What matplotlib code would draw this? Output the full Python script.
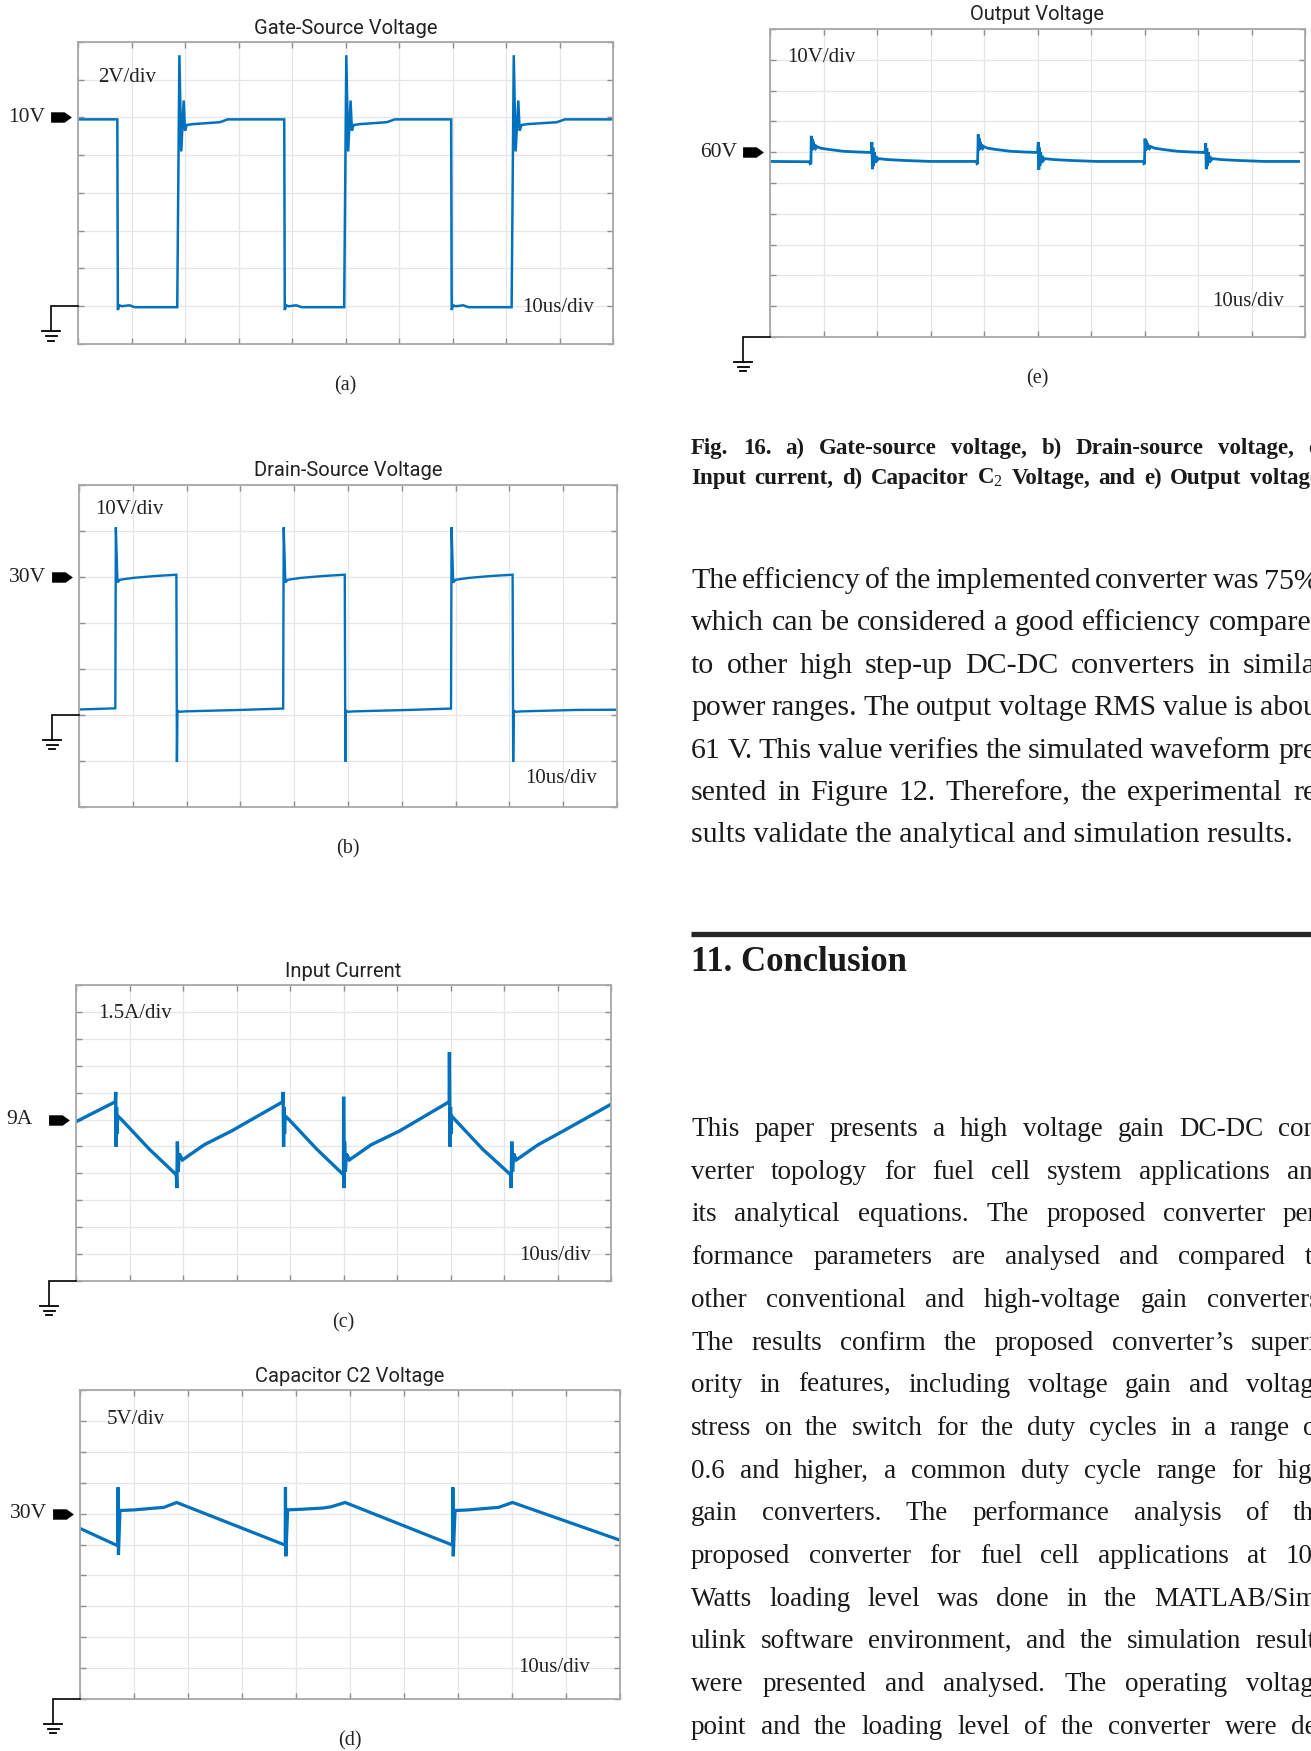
import matplotlib
matplotlib.use("Agg")
import matplotlib.pyplot as plt
from matplotlib.path import Path

plt.rcParams['font.family'] = ['Liberation Serif', 'DejaVu Serif']
plt.rcParams['mathtext.fontset'] = 'custom'
plt.rcParams['mathtext.rm'] = 'Liberation Serif'
plt.rcParams['mathtext.it'] = 'Liberation Serif:italic'
plt.rcParams['mathtext.bf'] = 'Liberation Serif:bold'

W, H = 1311, 1751
TRACE = '#0072BD'
SANS = ['Liberation Sans Narrow', 'Roboto', 'DejaVu Sans']

# ---------- scope captures (time in us) ----------
# gate-source voltage, V
gs_t = [0, 7.35, 7.45, 7.7, 8.2, 9.6, 10.6,
        18.55, 18.95, 19.3, 19.75, 20.0, 20.3, 21.5, 26.5, 28.0,
        38.55, 38.65, 38.9, 39.4, 40.8, 41.8,
        49.75, 50.15, 50.5, 50.95, 51.2, 51.5, 52.7, 57.7, 59.2,
        69.75, 69.85, 70.1, 70.6, 72.0, 73.0,
        81.05, 81.45, 81.8, 82.3, 82.55, 82.9, 84.0, 89.5, 91.0, 100]
gs_v = [9.9, 9.9, -0.2, 0.05, 0.0, 0.05, -0.05,
        -0.05, 13.3, 8.2, 10.9, 9.3, 9.6, 9.65, 9.75, 9.9,
        9.9, -0.2, 0.05, 0.0, 0.05, -0.05,
        -0.05, 13.3, 8.2, 10.9, 9.3, 9.6, 9.65, 9.75, 9.9,
        9.9, -0.2, 0.05, 0.0, 0.05, -0.05,
        -0.05, 13.3, 8.2, 10.9, 9.3, 9.6, 9.65, 9.75, 9.9, 9.9]

# drain-source voltage, V
ds_t = [0, 6.75, 6.85, 7.15, 7.6, 10.0, 14.0, 18.1, 18.2, 18.3, 18.6, 20.0, 30.0, 37.95,
        38.05, 38.35, 38.8, 41.2, 45.2, 49.4, 49.5, 49.6, 49.9, 51.3, 61.3, 69.15,
        69.25, 69.55, 70.0, 72.4, 76.4, 80.6, 80.7, 80.8, 81.1, 82.5, 92.5, 100]
ds_v = [1.2, 1.45, 40.8, 28.8, 29.4, 29.8, 30.2, 30.5, -10.2, 1.0, 0.7, 0.8, 1.1, 1.4,
        40.8, 28.8, 29.4, 29.8, 30.2, 30.5, -10.2, 1.0, 0.7, 0.8, 1.1, 1.4,
        40.8, 28.8, 29.4, 29.8, 30.2, 30.5, -10.2, 1.0, 0.7, 0.8, 1.1, 1.15]

# input current, A
ic_t = [0, 7.35, 7.42, 7.5, 7.58, 7.68, 7.8, 8.6, 13.7, 18.75, 18.85, 18.95, 19.1, 19.3, 19.9, 24.0, 29.0, 38.65,
        38.72, 38.8, 38.88, 38.98, 39.1, 39.9, 45.0, 50.0, 50.02, 50.1, 50.2, 50.35, 50.55, 51.1, 55.2, 60.4, 69.75,
        69.8, 69.85, 69.92, 70.0, 70.1, 70.2, 70.9, 76.0, 81.25, 81.35, 81.45, 81.6, 81.8, 82.3, 86.4, 91.0, 99.7]
ic_a = [8.88, 9.99, 10.54, 7.49, 9.7, 8.2, 9.2, 8.97, 7.35, 5.92, 5.18, 7.77, 6.1, 7.1, 6.75, 7.6, 8.35, 9.99,
        10.54, 7.49, 9.7, 8.2, 9.2, 8.97, 7.35, 5.92, 10.27, 5.18, 7.77, 6.1, 7.1, 6.75, 7.6, 8.35, 9.99,
        12.76, 10.73, 7.49, 9.7, 8.2, 9.2, 8.97, 7.35, 5.92, 5.18, 7.77, 6.1, 7.1, 6.75, 7.6, 8.35, 9.8]

# capacitor C2 voltage, V
c2_t = [0, 7.0, 7.05, 7.12, 7.4, 10.0, 14.0, 15.5, 17.9, 38.0,
        38.05, 38.12, 38.45, 41.0, 45.0, 46.5, 49.1, 69.0,
        69.05, 69.12, 69.45, 72.0, 76.0, 77.5, 80.1, 100]
c2_v = [27.6, 24.8, 34.25, 23.3, 30.5, 30.6, 30.9, 31.0, 31.8, 24.9,
        34.25, 23.1, 30.6, 30.7, 30.9, 31.1, 31.8, 24.9,
        34.25, 23.1, 30.5, 30.6, 30.9, 31.0, 31.8, 25.7]

# output voltage, V
vo_t = [0, 7.4, 7.5, 7.65, 7.72, 7.8, 7.9, 8.0, 8.1, 8.25, 8.4, 8.6, 8.8, 9.5, 11.0, 13.7, 16.0, 18.9,
        19.05, 19.15, 19.25, 19.35, 19.5, 19.65, 19.8, 20.0, 20.3, 22.0, 25.3, 30.0, 38.6,
        38.7, 38.8, 38.92, 39.0, 39.1, 39.2, 39.3, 39.45, 39.6, 39.8, 40.0, 40.7, 42.2, 44.9, 47.2, 50.0,
        50.15, 50.25, 50.35, 50.45, 50.6, 50.75, 50.9, 51.1, 51.4, 53.1, 56.4, 61.1, 69.8,
        69.9, 70.0, 70.1, 70.2, 70.3, 70.4, 70.5, 70.65, 70.8, 71.0, 71.2, 71.9, 73.4, 76.1, 78.4, 81.3,
        81.45, 81.55, 81.65, 81.75, 81.9, 82.05, 82.2, 82.4, 82.7, 84.4, 87.7, 92.4, 98.8]
vo_v = [57.0, 56.9, 56.3, 56.4, 65.3, 60.5, 64.3, 60.8, 63.4, 61.0, 62.5, 61.3, 61.8, 61.3, 60.9, 60.3, 60.1, 59.9,
        63.3, 54.5, 61.5, 55.5, 60.0, 56.5, 58.8, 57.3, 57.9, 57.6, 57.3, 57.0, 57.0,
        56.3, 56.4, 65.8, 60.5, 64.5, 60.8, 63.4, 61.0, 62.5, 61.3, 61.8, 61.3, 60.9, 60.3, 60.1, 59.9,
        63.3, 54.3, 61.5, 55.5, 60.0, 56.5, 58.8, 57.3, 57.9, 57.6, 57.3, 57.0, 57.0,
        56.3, 56.4, 64.4, 60.5, 63.8, 60.8, 63.0, 61.0, 62.3, 61.3, 61.8, 61.3, 60.9, 60.3, 60.1, 59.9,
        62.9, 54.5, 61.3, 55.5, 60.0, 56.5, 58.8, 57.3, 57.9, 57.6, 57.3, 57.0, 57.0]

titles = ['Gate-Source Voltage', 'Drain-Source Voltage', 'Input Current',
          'Capacitor C2 Voltage', 'Output Voltage']
tags = ['(a)', '(b)', '(c)', '(d)', '(e)']
per_div = [2, 10, 1.5, 5, 10]
div_labels = ['2V/div', '10V/div', '1.5A/div', '5V/div', '10V/div']
levels = [10, 30, 9, 30, 60]
level_labels = ['10V', '30V', '9A', '30V', '60V']
time_label = '10us/div'

# ---------- page layout (pixels) ----------
# box = left, top, right, bottom ; y divisions ; ground division from bottom
panels = [
    dict(box=(78, 42, 613, 344), ny=8, gnd=1, dl=(20, 36), tl=(19, 36), lw=1.8),
    dict(box=(79, 485, 617, 807), ny=7, gnd=2, dl=(16, 24), tl=(20, 29), lw=1.7),
    dict(box=(76, 985, 611, 1281), ny=11, gnd=0, dl=(22, 28), tl=(20, 26), lw=2.4),
    dict(box=(80, 1390, 620, 1699), ny=10, gnd=0, dl=(27, 29), tl=(30, 32), lw=2.3),
    dict(box=(770, 29, 1305, 337), ny=10, gnd=0, dl=(17, 28), tl=(21, 36), lw=2.0),
]
series = [(gs_t, gs_v), (ds_t, ds_v), (ic_t, ic_a), (c2_t, c2_v), (vo_t, vo_v)]

fig = plt.figure(figsize=(W / 100, H / 100), dpi=100)
fig.patch.set_facecolor('white')

arrow = Path([(-1, -0.5), (0.3, -0.5), (1, 0), (0.3, 0.5), (-1, 0.5), (-1, -0.5)],
             [Path.MOVETO] + [Path.LINETO] * 4 + [Path.CLOSEPOLY])

ground_px = []
for i, p in enumerate(panels):
    l, t, r, b = p['box']
    pw, ph = r - l, b - t
    ax = fig.add_axes([l / W, 1 - b / H, pw / W, ph / H])
    d = per_div[i]
    ax.set_xlim(0, 100)
    ax.set_ylim(-p['gnd'] * d, (p['ny'] - p['gnd']) * d)
    ax.set_xticks(range(0, 101, 10))
    ax.set_yticks([(k - p['gnd']) * d for k in range(p['ny'] + 1)])
    ax.grid(True, color='#e6e6e6', lw=0.9)
    ax.tick_params(direction='in', length=4, width=1, color='#8f8f8f',
                   top=True, right=True, labelleft=False, labelbottom=False)
    for s in ax.spines.values():
        s.set_color('#a8a8a8')
        s.set_linewidth(1.3)
    ax.set_axisbelow(True)

    x, y = series[i]
    ax.plot(x, y, color=TRACE, lw=p['lw'], solid_joinstyle='miter')

    # panel texts
    ax.text(0.5, 1 + 14 / ph, titles[i], transform=ax.transAxes, ha='center', va='center',
            family=SANS, fontsize=14.5, color='#222222')
    ax.text(0.5, -42 / ph, tags[i], transform=ax.transAxes, ha='center', va='center',
            fontsize=14.5, color='#222222')
    ax.text(p['dl'][0] / pw, 1 - p['dl'][1] / ph, div_labels[i], transform=ax.transAxes,
            ha='left', va='center', fontsize=15, color='#222222')
    ax.text(1 - p['tl'][0] / pw, p['tl'][1] / ph, time_label, transform=ax.transAxes,
            ha='right', va='center', fontsize=15, color='#222222')

    # level marker on the left
    ytr = ax.get_yaxis_transform()
    ax.plot([-17 / pw], [levels[i]], transform=ytr, marker=arrow, markersize=15,
            color='black', mew=0, clip_on=False)
    ax.text(-70 / pw, levels[i], level_labels[i], transform=ytr, ha='left', va='center',
            fontsize=15.5, color='#222222')

    ground_px.append((l, b - p['gnd'] * ph / p['ny']))

# overlay in page pixels for grounds and the text column
ov = fig.add_axes([0, 0, 1, 1], zorder=5)
ov.set_xlim(0, W)
ov.set_ylim(H, 0)
ov.axis('off')

for gx, gy in ground_px:
    cx = gx - 27
    ov.plot([gx, cx, cx], [gy, gy, gy + 25], color='black', lw=1.2, solid_joinstyle='miter')
    for dy, hw in [(25, 9), (29.7, 5.5), (34.4, 3)]:
        ov.plot([cx - hw, cx + hw], [gy + dy, gy + dy], color='black', lw=1.3)

renderer = fig.canvas.get_renderer()


def justified(lines, x0, x1, y0, dy, size, weight='normal', last_ragged=False):
    for n, line in enumerate(lines):
        y = y0 + n * dy
        if last_ragged and n == len(lines) - 1:
            ov.text(x0, y, line, fontsize=size, fontweight=weight, va='baseline',
                    color='#1a1a1a', clip_on=False)
            continue
        words = line.split()
        items = [ov.text(0, y, w, fontsize=size, fontweight=weight, va='baseline',
                         color='#1a1a1a', clip_on=False) for w in words]
        widths = [it.get_window_extent(renderer).width for it in items]
        gap = (x1 - x0 - sum(widths)) / max(len(words) - 1, 1)
        gap = max(gap, 3)
        xx = x0
        for it, wd in zip(items, widths):
            it.set_x(xx)
            xx += wd + gap


caption = ['Fig. 16.  a) Gate-source voltage, b) Drain-source voltage, c)',
           'Input current, d) Capacitor C$_{\\mathrm{2}}$ Voltage, and e) Output voltage.']
para1 = ['The efficiency of the implemented converter was 75%,',
         'which can be considered a good efficiency compared',
         'to other high step-up DC-DC converters in similar',
         'power ranges. The output voltage RMS value is about',
         '61 V. This value verifies the simulated waveform pre-',
         'sented in Figure 12. Therefore, the experimental re-',
         'sults validate the analytical and simulation results.']
para2 = ['This paper presents a high voltage gain DC-DC con-',
         'verter topology for fuel cell system applications and',
         'its analytical equations. The proposed converter per-',
         'formance parameters are analysed and compared to',
         'other conventional and high-voltage gain converters.',
         'The results confirm the proposed converter\u2019s superi-',
         'ority in features, including voltage gain and voltage',
         'stress on the switch for the duty cycles in a range of',
         '0.6 and higher, a common duty cycle range for high',
         'gain converters. The performance analysis of the',
         'proposed converter for fuel cell applications at 100',
         'Watts loading level was done in the MATLAB/Sim-',
         'ulink software environment, and the simulation results',
         'were presented and analysed. The operating voltage',
         'point and the loading level of the converter were de-']

justified(caption, 691, 1326, 454, 30, 16.5, weight='bold')
justified(para1, 691, 1326, 588, 42.4, 21.5, last_ragged=True)
ov.plot([691, W + 5], [934, 934], color='#262626', lw=3.8, solid_capstyle='butt')
ov.text(691, 971, '11. Conclusion', fontsize=25, fontweight='bold', va='baseline', color='#1a1a1a')
justified(para2, 691, 1326, 1136, 42.7, 19.5)

fig.savefig('out.png', dpi=100)
